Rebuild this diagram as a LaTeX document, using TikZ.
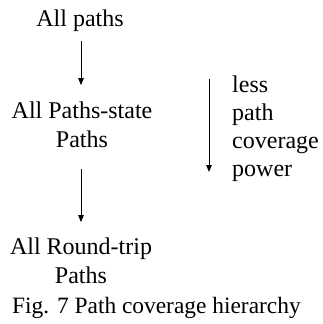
\documentclass[tikz,border=0pt]{standalone}
\usepackage{fontspec}
\setmainfont{Liberation Serif}
\usetikzlibrary{arrows.meta}
\begin{document}
\begin{tikzpicture}[x=1pt,y=-1pt,
  lbl/.style={inner sep=0pt, align=center, font=\fontsize{24}{29}\selectfont},
  side/.style={inner sep=0pt, align=left, font=\fontsize{24}{28}\selectfont},
  captext/.style={inner sep=0pt, font=\fontsize{23.4}{28}\selectfont},
  arr/.style={line width=0.9pt, -{Triangle[length=7pt,width=5.5pt]}}]
\useasboundingbox (0,0) rectangle (322,324);
\node[lbl, anchor=base] (a) at (80,26) {All paths};
\node[lbl, anchor=base] (b) at (82,147) {All Paths-state\\Paths};
\node[lbl, anchor=base] (c) at (81,283) {All Round-trip\\Paths};
\draw[arr, shorten <=10pt, shorten >=16pt] (a.south -| 81,0) -- (b.north -| 81,0);
\draw[arr, shorten <=22pt, shorten >=15pt] (b.south -| 81,0) -- (c.north -| 81,0);
\coordinate (r1) at (209,79);
\coordinate (r2) at (209,172);
\draw[arr] (r1) -- (r2);
\node[side, anchor=base west] (s) at (232,176) {less\\path\\coverage\\power};
\node[captext, anchor=base west] (f) at (12,313) {Fig. 7 Path coverage hierarchy};
\end{tikzpicture}
\end{document}
